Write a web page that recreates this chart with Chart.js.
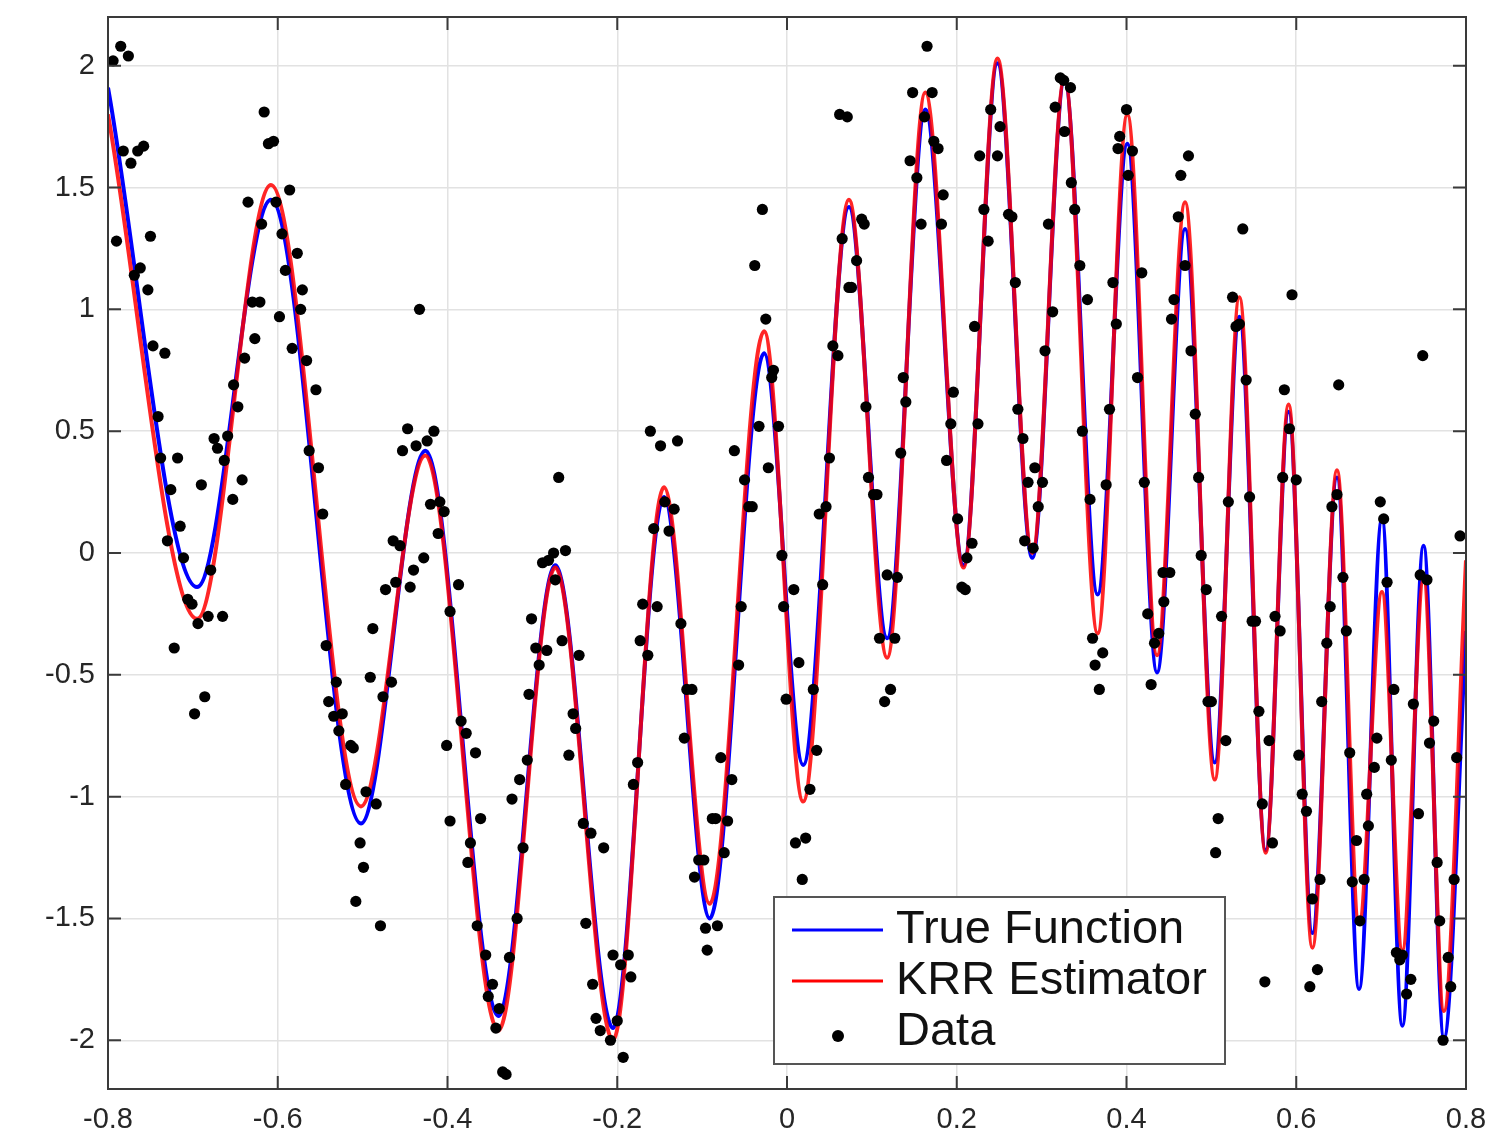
<!DOCTYPE html>
<html>
<head>
<meta charset="utf-8">
<script src="https://cdn.jsdelivr.net/npm/chart.js@4.4.1/dist/chart.umd.min.js"></script>
<style>
  html, body { margin: 0; padding: 0; background: #fff; }
</style>
</head>
<body>
<canvas id="myChart" width="1496" height="1131"></canvas>
<script>
const canvas = document.getElementById('myChart').getContext('2d');

// axis ticks
const xTicks = [-0.8, -0.6, -0.4, -0.2, 0, 0.2, 0.4, 0.6, 0.8];
const xLabels = ['-0.8', '-0.6', '-0.4', '-0.2', '0', '0.2', '0.4', '0.6', '0.8'];
const yTicks = [-2, -1.5, -1, -0.5, 0, 0.5, 1, 1.5, 2];
const yLabels = ['-2', '-1.5', '-1', '-0.5', '0', '0.5', '1', '1.5', '2'];

const legendLabels = ['True Function', 'KRR Estimator', 'Data'];

// peaks / troughs of the two curves
const curveX = [-0.8, -0.695, -0.608, -0.502, -0.426, -0.340, -0.273, -0.205, -0.145, -0.091,
  -0.027, 0.019, 0.073, 0.118, 0.163, 0.208, 0.248, 0.289, 0.327, 0.366,
  0.401, 0.436, 0.469, 0.504, 0.533, 0.564, 0.591, 0.619, 0.648, 0.674,
  0.701, 0.725, 0.750, 0.774, 0.8];
const trueY = [1.91, -0.14, 1.45, -1.11, 0.42, -1.90, -0.05, -1.95, 0.23, -1.50,
  0.82, -0.87, 1.42, -0.35, 1.82, -0.05, 2.01, -0.02, 1.94, -0.17,
  1.68, -0.49, 1.33, -0.86, 0.97, -1.22, 0.58, -1.56, 0.31, -1.79,
  0.14, -1.94, 0.03, -1.99, -0.32];
const krrY = [1.80, -0.27, 1.51, -1.04, 0.40, -1.96, -0.06, -2.00, 0.27, -1.44,
  0.91, -1.02, 1.45, -0.43, 1.89, -0.06, 2.03, 0.00, 1.95, -0.33,
  1.80, -0.42, 1.44, -0.93, 1.05, -1.23, 0.61, -1.62, 0.34, -1.52,
  -0.16, -1.63, -0.11, -1.88, -0.03];

// noisy samples [x, y]
const samples = [
  [-0.794,2.02],[-0.785,2.08],[-0.776,2.04],[-0.790,1.28],[-0.782,1.65],[-0.773,1.60],[-0.765,1.65],[-0.758,1.67],
  [-0.750,1.30],[-0.769,1.14],[-0.762,1.17],[-0.753,1.08],[-0.747,0.85],[-0.733,0.82],[-0.741,0.56],[-0.738,0.39],
  [-0.718,0.39],[-0.726,0.26],[-0.715,0.11],[-0.730,0.05],
  [-0.616,1.81],[-0.611,1.68],[-0.605,1.69],[-0.635,1.44],[-0.586,1.49],[-0.619,1.35],[-0.602,1.44],[-0.595,1.31],
  [-0.577,1.23],[-0.591,1.16],[-0.571,1.08],[-0.573,1.00],[-0.598,0.97],[-0.630,1.03],[-0.621,1.03],[-0.627,0.88],
  [-0.583,0.84],[-0.566,0.79],[-0.639,0.80],[-0.652,0.69],[-0.647,0.60],[-0.555,0.67],[-0.675,0.47],[-0.671,0.43],
  [-0.659,0.48],[-0.663,0.38],[-0.690,0.28],[-0.642,0.30],[-0.653,0.22],[-0.563,0.42],[-0.552,0.35],[-0.547,0.16],
  [-0.433,1.00],[-0.447,0.51],[-0.453,0.42],[-0.437,0.44],[-0.424,0.46],[-0.416,0.50],[-0.420,0.20],[-0.409,0.21],
  [-0.404,0.17],[-0.411,0.08],[-0.464,0.05],[-0.456,0.03],[-0.428,-0.02],
  [-0.711,-0.02],[-0.679,-0.07],[-0.706,-0.19],[-0.701,-0.21],[-0.694,-0.29],[-0.682,-0.26],[-0.665,-0.26],[-0.722,-0.39],
  [-0.686,-0.59],[-0.698,-0.66],
  [-0.543,-0.38],[-0.531,-0.53],[-0.540,-0.61],[-0.534,-0.67],[-0.524,-0.66],[-0.528,-0.73],[-0.514,-0.79],[-0.511,-0.80],
  [-0.520,-0.95],[-0.496,-0.98],[-0.484,-1.03],[-0.503,-1.19],[-0.499,-1.29],[-0.508,-1.43],[-0.479,-1.53],[-0.488,-0.31],
  [-0.491,-0.51],[-0.476,-0.59],[-0.466,-0.53],[-0.473,-0.15],[-0.461,-0.12],[-0.444,-0.14],[-0.440,-0.07],[-0.401,-0.79],
  [-0.397,-1.10],[-0.397,-0.24],
  [-0.269,0.31],[-0.288,-0.04],[-0.281,-0.03],[-0.275,0.00],[-0.261,0.01],[-0.161,0.50],[-0.149,0.44],[-0.129,0.46],
  [-0.144,0.21],[-0.133,0.18],[-0.157,0.10],[-0.139,0.09],[-0.029,1.41],[-0.038,1.18],[-0.025,0.96],[-0.016,0.75],
  [-0.018,0.72],[-0.033,0.52],[-0.010,0.52],[-0.062,0.42],[-0.050,0.30],[-0.022,0.35],[-0.045,0.19],[-0.041,0.19],
  [-0.006,-0.01],
  [-0.387,-0.13],[-0.384,-0.69],[-0.378,-0.74],[-0.367,-0.82],[-0.361,-1.09],[-0.373,-1.19],[-0.376,-1.27],[-0.365,-1.53],
  [-0.355,-1.65],[-0.347,-1.77],[-0.352,-1.82],[-0.339,-1.87],[-0.343,-1.95],[-0.335,-2.13],[-0.331,-2.14],[-0.327,-1.66],
  [-0.318,-1.50],[-0.311,-1.21],[-0.324,-1.01],[-0.315,-0.93],[-0.306,-0.85],[-0.304,-0.58],[-0.301,-0.27],[-0.296,-0.39],
  [-0.283,-0.40],[-0.292,-0.46],[-0.273,-0.11],[-0.265,-0.36],[-0.245,-0.42],[-0.252,-0.66],[-0.249,-0.72],[-0.257,-0.83],
  [-0.240,-1.11],[-0.231,-1.15],[-0.216,-1.21],[-0.237,-1.52],[-0.229,-1.77],[-0.225,-1.91],[-0.220,-1.96],[-0.208,-2.00],
  [-0.200,-1.92],[-0.193,-2.07],[-0.205,-1.65],[-0.196,-1.69],[-0.187,-1.65],[-0.184,-1.74],[-0.181,-0.95],[-0.176,-0.86],
  [-0.173,-0.36],[-0.164,-0.42],[-0.170,-0.21],[-0.153,-0.22],[-0.125,-0.29],[-0.118,-0.56],[-0.112,-0.56],[-0.121,-0.76],
  [-0.104,-1.26],[-0.098,-1.26],[-0.109,-1.33],[-0.096,-1.54],[-0.082,-1.53],[-0.094,-1.63],[-0.088,-1.09],[-0.084,-1.09],
  [-0.070,-1.10],[-0.074,-1.23],[-0.078,-0.84],[-0.065,-0.93],[-0.057,-0.46],[-0.054,-0.22],[-0.004,-0.22],[-0.001,-0.60],
  [0.062,1.80],[0.071,1.79],[0.065,1.29],[0.088,1.37],[0.091,1.35],[0.082,1.20],[0.073,1.09],[0.076,1.09],
  [0.054,0.85],[0.060,0.81],[0.093,0.60],[0.050,0.39],[0.096,0.31],[0.102,0.24],[0.106,0.24],[0.038,0.16],
  [0.046,0.19],[0.165,2.08],[0.148,1.89],[0.171,1.89],[0.162,1.79],[0.173,1.69],[0.178,1.66],[0.145,1.61],
  [0.153,1.54],[0.184,1.47],[0.158,1.35],[0.182,1.35],[0.137,0.72],[0.140,0.62],[0.134,0.41],[0.196,0.66],
  [0.193,0.53],[0.188,0.38],[0.201,0.14],[0.218,0.04],[0.212,-0.02],[0.240,1.82],[0.251,1.75],[0.227,1.63],
  [0.248,1.63],[0.232,1.41],[0.237,1.28],[0.261,1.39],[0.265,1.38],[0.269,1.11],[0.221,0.93],[0.225,0.53],
  [0.272,0.59],[0.278,0.47],[0.284,0.29],[0.292,0.35],[0.301,0.29],[0.296,0.19],[0.280,0.05],[0.290,0.02],
  [0.322,1.95],[0.326,1.94],[0.334,1.91],[0.316,1.83],[0.327,1.73],[0.335,1.52],[0.339,1.41],[0.308,1.35],
  [0.345,1.18],[0.354,1.04],[0.313,0.99],[0.304,0.83],[0.348,0.50],[0.357,0.22],[0.380,0.59],[0.376,0.28],
  [0.388,0.94],[0.384,1.11],[0.392,1.71],[0.390,1.66],[0.400,1.82],[0.402,1.55],
  [0.008,-0.15],[0.042,-0.13],[0.014,-0.45],[0.031,-0.56],[0.035,-0.81],[0.027,-0.97],[0.010,-1.19],[0.022,-1.17],
  [0.018,-1.34],[0.118,-0.09],[0.130,-0.10],[0.109,-0.35],[0.127,-0.35],[0.122,-0.56],[0.115,-0.61],[0.206,-0.14],
  [0.210,-0.15],[0.360,-0.35],[0.372,-0.41],[0.363,-0.46],[0.368,-0.56],
  [0.407,1.65],[0.418,1.15],[0.413,0.72],[0.421,0.29],[0.488,-0.01],[0.473,1.63],[0.464,1.55],[0.461,1.38],
  [0.469,1.18],[0.456,1.04],[0.453,0.96],[0.476,0.83],[0.481,0.57],[0.485,0.31],[0.537,1.33],[0.525,1.05],
  [0.529,0.93],[0.533,0.94],[0.541,0.71],[0.520,0.21],[0.545,0.23],[0.595,1.06],[0.586,0.67],[0.592,0.51],
  [0.584,0.31],[0.600,0.30],[0.650,0.69],[0.648,0.24],[0.642,0.19],[0.699,0.21],[0.703,0.14],[0.749,0.81],
  [0.793,0.07],
  [0.425,-0.25],[0.438,-0.33],[0.433,-0.37],[0.429,-0.54],[0.444,-0.20],[0.443,-0.08],[0.451,-0.08],[0.494,-0.15],
  [0.496,-0.61],[0.500,-0.61],[0.512,-0.26],[0.517,-0.77],[0.508,-1.09],[0.505,-1.23],[0.548,-0.28],[0.552,-0.28],
  [0.556,-0.65],[0.560,-1.03],[0.572,-1.19],[0.568,-0.77],[0.575,-0.26],[0.581,-0.32],[0.563,-1.76],[0.603,-0.83],
  [0.607,-0.99],[0.612,-1.06],[0.616,-1.78],[0.625,-1.71],[0.619,-1.42],[0.628,-1.34],[0.630,-0.61],[0.636,-0.37],
  [0.640,-0.22],[0.655,-0.10],[0.659,-0.32],[0.663,-0.82],[0.671,-1.18],[0.666,-1.35],[0.680,-1.34],[0.675,-1.51],
  [0.685,-1.12],[0.683,-0.99],[0.692,-0.88],[0.695,-0.76],[0.707,-0.12],[0.715,-0.56],[0.712,-0.85],[0.718,-1.64],
  [0.725,-1.65],[0.722,-1.67],[0.735,-1.75],[0.730,-1.81],[0.738,-0.62],[0.744,-1.07],[0.746,-0.09],[0.754,-0.11],
  [0.762,-0.69],[0.757,-0.78],[0.766,-1.27],[0.769,-1.51],[0.779,-1.66],[0.782,-1.78],[0.773,-2.00],[0.786,-1.34],
  [0.789,-0.84]
];

const axisColor = '#3a3a3a';
const labelFont = { family: '"Liberation Sans", Arial, Helvetica, sans-serif', size: 29 };

// matlab style box, inward ticks and the legend inside the axes
const boxPlugin = {
  id: 'boxPlugin',
  afterDraw(chart) {
    const ctx = chart.ctx;
    const a = chart.chartArea;
    const xs = chart.scales.x, ys = chart.scales.y;
    const tl = 13;
    ctx.save();
    ctx.strokeStyle = axisColor;
    ctx.lineWidth = 2;
    ctx.beginPath();
    xTicks.forEach(function(v) {
      const p = xs.getPixelForValue(v);
      ctx.moveTo(p, a.bottom); ctx.lineTo(p, a.bottom - tl);
      ctx.moveTo(p, a.top); ctx.lineTo(p, a.top + tl);
    });
    yTicks.forEach(function(v) {
      const p = ys.getPixelForValue(v);
      ctx.moveTo(a.left, p); ctx.lineTo(a.left + tl, p);
      ctx.moveTo(a.right, p); ctx.lineTo(a.right - tl, p);
    });
    ctx.stroke();
    ctx.strokeRect(a.left, a.top, a.right - a.left, a.bottom - a.top);

    // legend
    const bx = 774, by = 897, bw = 451, bh = 167;
    ctx.fillStyle = '#fff';
    ctx.fillRect(bx, by, bw, bh);
    ctx.strokeStyle = '#555';
    ctx.lineWidth = 2;
    ctx.strokeRect(bx, by, bw, bh);

    const legendColors = ['rgb(0, 0, 255)', 'rgb(255, 0, 0)', '#000'];
    const ds = chart.data.datasets;
    const rows = [ds[2], ds[1], ds[0]];
    ctx.font = '47px "Liberation Sans", Arial, Helvetica, sans-serif';
    ctx.textBaseline = 'alphabetic';
    ctx.textAlign = 'left';
    rows.forEach(function(d, i) {
      const cy = by + 33 + i * 51;
      if (d.showLine) {
        ctx.strokeStyle = legendColors[i];
        ctx.lineWidth = 3;
        ctx.beginPath();
        ctx.moveTo(bx + 18, cy);
        ctx.lineTo(bx + 109, cy);
        ctx.stroke();
      } else {
        ctx.fillStyle = legendColors[i];
        ctx.beginPath();
        ctx.arc(bx + 64, cy + 4, 6, 0, Math.PI * 2);
        ctx.fill();
      }
      ctx.fillStyle = '#111';
      ctx.fillText(legendLabels[i], bx + 122, cy + 13);
    });
    ctx.restore();
  }
};

const config = {
  type: 'scatter',
  data: {
    datasets: [
      {
        label: 'Data',
        data: samples.map(function(p) { return { x: p[0], y: p[1] }; }),
        backgroundColor: '#000',
        borderColor: '#000',
        borderWidth: 0,
        pointRadius: 5.6,
        pointHoverRadius: 5.6,
        order: 0
      },
      {
        label: 'KRR Estimator',
        data: curveX.map(function(x, i) { return { x: x, y: krrY[i] }; }),
        showLine: true,
        borderColor: 'rgba(255, 0, 0, 0.85)',
        borderWidth: 4,
        pointRadius: 0,
        cubicInterpolationMode: 'monotone',
        order: 1
      },
      {
        label: 'True Function',
        data: curveX.map(function(x, i) { return { x: x, y: trueY[i] }; }),
        showLine: true,
        borderColor: 'rgb(0, 0, 255)',
        borderWidth: 4,
        pointRadius: 0,
        cubicInterpolationMode: 'monotone',
        order: 2
      }
    ]
  },
  options: {
    responsive: false,
    animation: false,
    events: [],
    layout: { padding: { top: 17, right: 30, left: 0, bottom: 0 } },
    plugins: { legend: { display: false }, tooltip: { enabled: false } },
    scales: {
      x: {
        type: 'linear',
        min: -0.8,
        max: 0.8,
        afterBuildTicks: function(s) { s.ticks = xTicks.map(function(v) { return { value: v }; }); },
        afterFit: function(s) { s.height = 42; s.paddingLeft = 0; s.paddingRight = 0; },
        grid: { color: '#e2e2e2', lineWidth: 1.5, drawTicks: false },
        border: { display: false },
        ticks: {
          padding: 14, color: '#262626', font: labelFont, maxRotation: 0, autoSkip: false,
          callback: function(v, i) { return xLabels[i]; }
        }
      },
      y: {
        type: 'linear',
        min: -2.2,
        max: 2.2,
        afterBuildTicks: function(s) { s.ticks = yTicks.map(function(v) { return { value: v }; }); },
        afterFit: function(s) { s.width = 108; s.paddingTop = 0; s.paddingBottom = 0; },
        grid: { color: '#e2e2e2', lineWidth: 1.5, drawTicks: false },
        border: { display: false },
        ticks: {
          padding: 13, color: '#262626', font: labelFont, autoSkip: false,
          callback: function(v, i) { return yLabels[i]; }
        }
      }
    }
  },
  plugins: [boxPlugin]
};

const myChart = new Chart(canvas, config);
</script>
</body>
</html>
